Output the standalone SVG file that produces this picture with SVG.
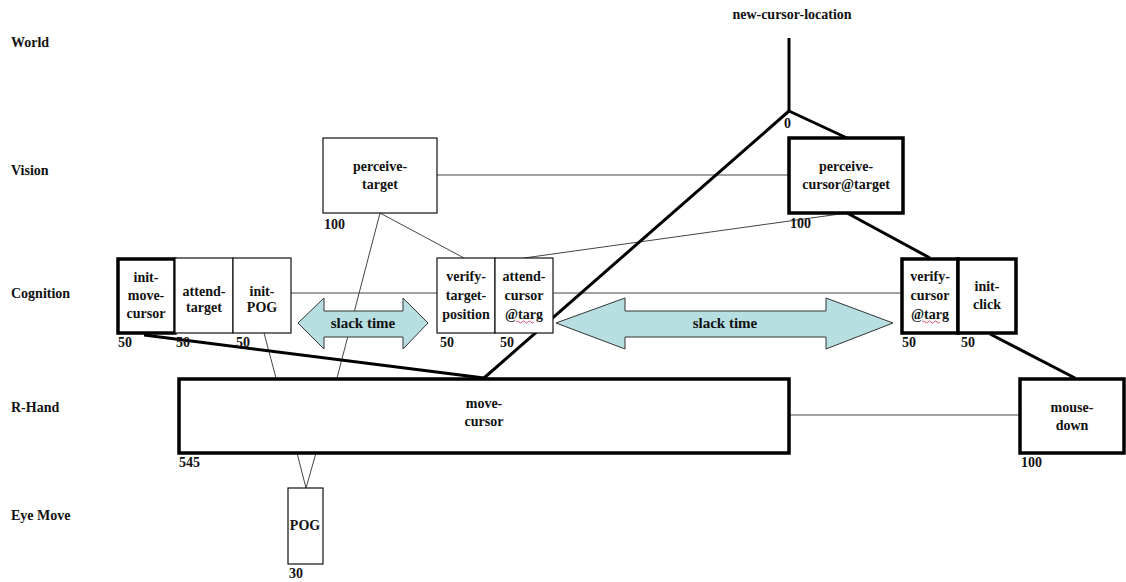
<svg xmlns="http://www.w3.org/2000/svg" width="1126" height="582" viewBox="0 0 1126 582" font-family="'Times New Roman', 'Liberation Serif', 'DejaVu Serif', serif">
<style>
text{font-family:'Times New Roman','Liberation Serif','DejaVu Serif',serif;font-weight:bold;font-size:14px;fill:#111}
.bt{text-anchor:middle}
.box{fill:#fff;stroke:#111;stroke-width:1.2}
.tbox{fill:#fff;stroke:#000;stroke-width:3.5}
.thin{stroke:#444;stroke-width:1;fill:none}
.thick{stroke:#000;stroke-width:3;fill:none}
.slack{fill:#b7dfe2;stroke:#333;stroke-width:1}
.st{font-size:15px;text-anchor:middle}
.sq{fill:none;stroke:#d04060;stroke-width:0.9}
</style>
<rect width="1126" height="582" fill="#fff"/>
<g id="lanes">
<text x="11" y="47">World</text>
<text x="11" y="175">Vision</text>
<text x="11" y="298">Cognition</text>
<text x="11" y="412">R-Hand</text>
<text x="11" y="520">Eye Move</text>
</g>
<g id="connectors">
<line class="thin" x1="291" y1="293" x2="437" y2="293"/>
<line class="thin" x1="553" y1="293" x2="902" y2="293"/>
<line class="thin" x1="437" y1="175" x2="788" y2="175"/>
<line class="thin" x1="380" y1="213" x2="464" y2="258"/>
<line class="thin" x1="380" y1="213" x2="337" y2="378"/>
<line class="thin" x1="264" y1="333" x2="276" y2="378"/>
<line class="thin" x1="524" y1="258" x2="847" y2="213"/>
<line class="thin" x1="789" y1="415" x2="1019" y2="415"/>
<line class="thin" x1="297" y1="453" x2="306" y2="488"/>
<line class="thin" x1="316" y1="453" x2="306" y2="488"/>
<line class="thick" x1="789" y1="38" x2="789" y2="111"/>
<line class="thick" x1="789" y1="111" x2="847" y2="138"/>
<line class="thick" x1="789" y1="111" x2="484" y2="378"/>
<line class="thick" x1="847" y1="213" x2="930" y2="258"/>
<line class="thick" x1="144" y1="335" x2="484" y2="378"/>
<line class="thick" x1="990" y1="334" x2="1075" y2="378"/>
</g>
<g id="slack1">
<polygon class="slack" points="298,323 324,298 324,311 403,311 403,298 428,323 403,349 403,337 324,337 324,349"/>
<text class="st" x="363" y="328">slack time</text>
</g>
<g id="slack2">
<polygon class="slack" points="556,323 625,298 625,311 826,311 826,298 893,323 826,349 826,337 625,337 625,349"/>
<text class="st" x="725" y="328">slack time</text>
</g>
<g id="new-cursor-location">
<text class="bt" x="792" y="19">new-cursor-location</text>
<text x="784" y="128">0</text>
</g>
<g id="perceive-target">
<rect class="box" x="323" y="138" width="114" height="75"/>
<text class="bt" x="380" y="171">perceive-</text>
<text class="bt" x="380" y="189">target</text>
<text x="324" y="229">100</text>
</g>
<g id="perceive-cursor-target">
<rect class="tbox" x="789" y="138" width="114" height="75"/>
<text class="bt" x="846" y="171">perceive-</text>
<text class="bt" x="846" y="189">cursor@target</text>
<text x="790" y="228">100</text>
</g>
<g id="init-move-cursor">
<rect class="tbox" x="118" y="259" width="57" height="74"/>
<text class="bt" x="146" y="282">init-</text>
<text class="bt" x="146" y="300">move-</text>
<text class="bt" x="146" y="318">cursor</text>
<text x="118" y="347">50</text>
</g>
<g id="attend-target">
<rect class="box" x="175" y="258" width="58" height="75"/>
<text class="bt" x="204" y="296">attend-</text>
<text class="bt" x="204" y="312">target</text>
<text x="176" y="347">50</text>
</g>
<g id="init-POG">
<rect class="box" x="233" y="258" width="58" height="75"/>
<text class="bt" x="262" y="296">init-</text>
<text class="bt" x="262" y="312">POG</text>
<text x="236" y="347">50</text>
</g>
<g id="verify-target-position">
<rect class="box" x="437" y="258" width="58" height="75"/>
<text class="bt" x="466" y="281">verify-</text>
<text class="bt" x="466" y="300">target-</text>
<text class="bt" x="466" y="319">position</text>
<text x="440" y="347">50</text>
</g>
<g id="attend-cursor-targ">
<rect class="box" x="495" y="258" width="58" height="75"/>
<text class="bt" x="524" y="281">attend-</text>
<text class="bt" x="524" y="300">cursor</text>
<text class="bt" x="524" y="319">@targ</text>
<path class="sq" d="M516,322 q1.5,-2 3,0 t3,0 t3,0 t3,0 t3,0 t3,0"/>
<text x="500" y="347">50</text>
</g>
<g id="verify-cursor-targ">
<rect class="tbox" x="902" y="259" width="56" height="74"/>
<text class="bt" x="930" y="281">verify-</text>
<text class="bt" x="930" y="300">cursor</text>
<text class="bt" x="930" y="319">@targ</text>
<path class="sq" d="M922,322 q1.5,-2 3,0 t3,0 t3,0 t3,0 t3,0 t3,0"/>
<text x="902" y="347">50</text>
</g>
<g id="init-click">
<rect class="tbox" x="958" y="259" width="58" height="74"/>
<text class="bt" x="987" y="291">init-</text>
<text class="bt" x="987" y="309">click</text>
<text x="961" y="347">50</text>
</g>
<g id="move-cursor">
<rect class="tbox" x="179" y="379" width="610" height="74"/>
<text class="bt" x="484" y="408">move-</text>
<text class="bt" x="484" y="426">cursor</text>
<text x="179" y="467">545</text>
</g>
<g id="mouse-down">
<rect class="tbox" x="1020" y="379" width="104" height="74"/>
<text class="bt" x="1072" y="412">mouse-</text>
<text class="bt" x="1072" y="430">down</text>
<text x="1021" y="467">100</text>
</g>
<g id="POG">
<rect class="box" x="288" y="488" width="35" height="76"/>
<text class="bt" x="305" y="530">POG</text>
<text x="289" y="578">30</text>
</g>
</svg>
